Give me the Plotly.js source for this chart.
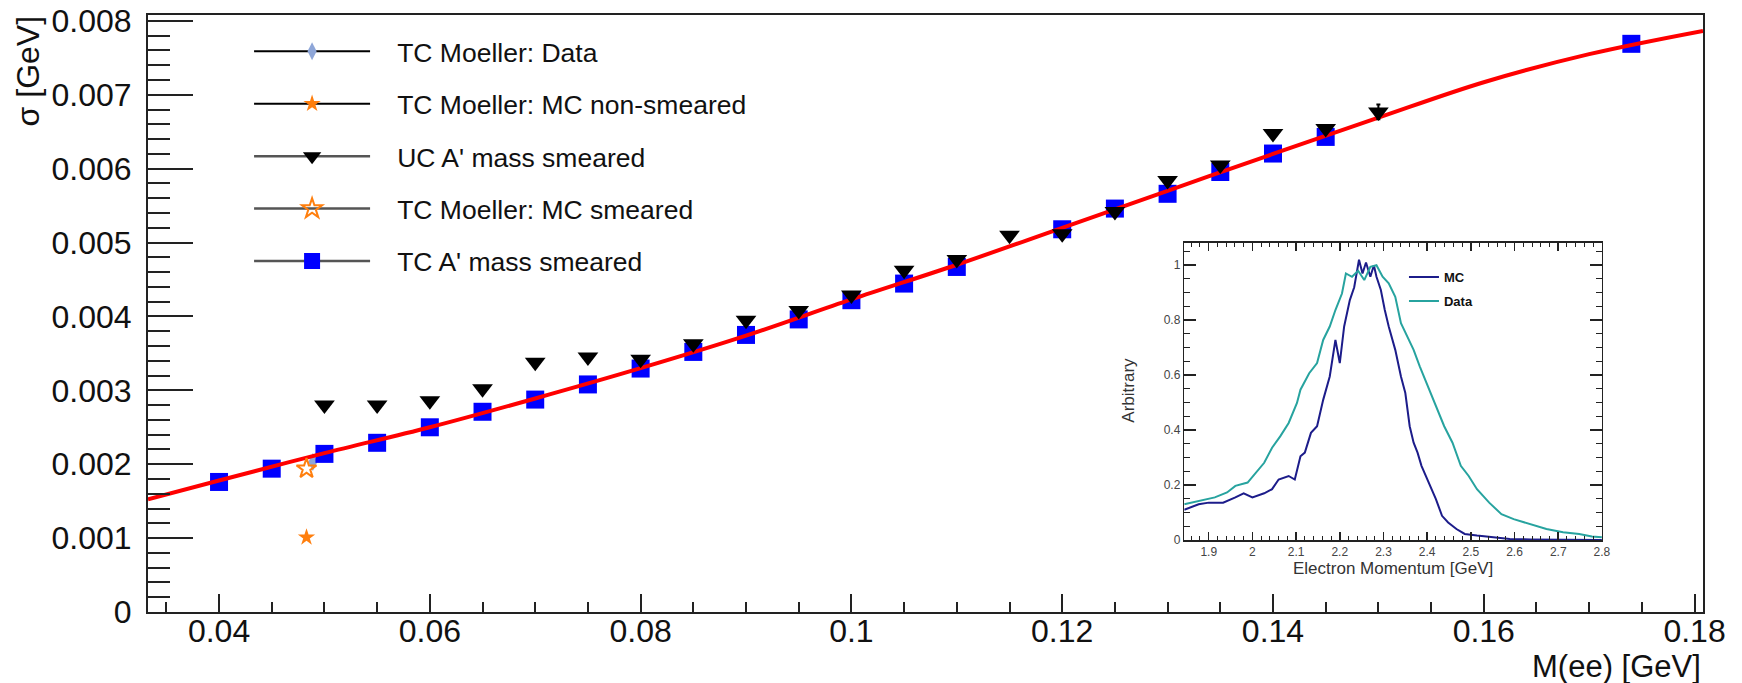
<!DOCTYPE html>
<html>
<head>
<meta charset="utf-8">
<script src="https://cdn.plot.ly/plotly-3.0.1.min.js"></script>
<style>html,body{margin:0;padding:0;background:#fff;}#chart{width:1742px;height:683px;}</style>
</head>
<body>
<div id="chart"></div>
<script>
// ---- main plot data (M(ee) in GeV, sigma in GeV) ----
const massTC = [0.04,0.045,0.05,0.055,0.06,0.065,0.07,0.075,0.08,0.085,0.09,0.095,0.10,0.105,0.11,0.12,0.125,0.13,0.135,0.14,0.145,0.174];
const sigmaTC = [0.00176,0.00194,0.00214,0.00229,0.00250,0.00271,0.002875,0.00308,0.003295,0.00352,0.00375,0.00396,0.00422,0.004445,0.00467,0.00518,0.00546,0.00566,0.005955,0.006205,0.00643,0.00769];

const massUC = [0.05,0.055,0.06,0.065,0.07,0.075,0.08,0.085,0.09,0.095,0.10,0.105,0.11,0.115,0.12,0.125,0.13,0.135,0.14,0.145,0.15];
const sigmaUC = [0.00280,0.00280,0.00286,0.00302,0.00338,0.00345,0.00342,0.00363,0.00395,0.00408,0.00429,0.004625,0.00477,0.00510,0.00512,0.00542,0.00584,0.00605,0.006476,0.006543,0.006768];
const errUC = [0,0,0,0,0,0,0,0,0,0,0,0,0,0,0,0,0,0,0,0,0.0001];

const moellerDataMass = [0.0489];
const moellerDataSigma = [0.00203];
const moellerMCMass = [0.0483];
const moellerMCNonSmeared = [0.00101];
const moellerMCSmeared = [0.00194];

const fitMass = [0.03326,0.04,0.05,0.06,0.07,0.08,0.09,0.10,0.11,0.12,0.13,0.14,0.15,0.16,0.17,0.1808];
const fitSigma = [0.001525,0.00178,0.00215,0.00250,0.00289,0.00330,0.00374,0.00423,0.00470,0.00520,0.00570,0.00620,0.00669,0.00717,0.00755,0.007865];

// ---- inset data (electron momentum in GeV, arbitrary units) ----
const mcP = [1.844,1.877,1.9,1.933,1.961,1.98,2.0,2.027,2.045,2.06,2.083,2.097,2.11,2.12,2.134,2.148,2.162,2.177,2.19,2.2,2.21,2.223,2.233,2.244,2.252,2.26,2.27,2.278,2.284,2.294,2.303,2.312,2.327,2.34,2.35,2.36,2.369,2.378,2.387,2.397,2.41,2.42,2.434,2.448,2.467,2.486,2.514,2.552,2.589,2.636,2.683,2.8];
const mcY = [0.11,0.13,0.136,0.136,0.155,0.17,0.155,0.17,0.185,0.22,0.233,0.22,0.305,0.318,0.39,0.414,0.51,0.595,0.728,0.644,0.777,0.873,0.92,1.02,0.97,1.01,0.958,1.0,0.958,0.91,0.837,0.777,0.692,0.595,0.535,0.414,0.354,0.318,0.27,0.233,0.185,0.149,0.088,0.064,0.04,0.022,0.016,0.01,0.004,0.002,0.001,0];
const dataP = [1.844,1.877,1.914,1.942,1.961,1.989,2.008,2.027,2.045,2.064,2.083,2.102,2.11,2.13,2.148,2.162,2.177,2.19,2.205,2.214,2.228,2.242,2.256,2.27,2.284,2.298,2.312,2.327,2.34,2.355,2.369,2.383,2.402,2.42,2.439,2.458,2.477,2.495,2.514,2.542,2.57,2.598,2.636,2.673,2.711,2.748,2.777,2.8];
const dataY = [0.13,0.142,0.155,0.173,0.197,0.209,0.245,0.281,0.336,0.378,0.426,0.499,0.547,0.607,0.644,0.728,0.777,0.837,0.897,0.97,0.958,0.98,0.946,0.994,1.0,0.958,0.934,0.885,0.789,0.74,0.692,0.632,0.559,0.487,0.414,0.354,0.27,0.233,0.185,0.136,0.094,0.076,0.058,0.04,0.028,0.022,0.013,0.01];

// separate points with gaps so the legend shows a line but the plot shows only markers
function gapped(arr){ const out=[]; arr.forEach((v,i)=>{ if(i) out.push(null); out.push(v); }); return out; }
const PAD = '\u00a0\u00a0\u00a0';

const FONT = 'Liberation Sans, Arial, sans-serif';
const ORANGE = '#ff7f0e';

const traces = [
  {name:PAD+'TC Moeller: Data', x:gapped(moellerDataMass), y:gapped(moellerDataSigma), mode:'lines+markers',
   marker:{symbol:'diamond-tall', size:13, color:'#8ea6d8'}, line:{color:'#000', width:2},
   legendrank:1, legendgroup:'g1', xaxis:'x', yaxis:'y'},
  {name:PAD+"TC A' mass smeared", x:gapped(massTC), y:gapped(sigmaTC), mode:'lines+markers',
   marker:{symbol:'square', size:18, color:'#0000ff'}, line:{color:'#555', width:2.5},
   legendrank:5, legendgroup:'g5'},
  {name:'fit', x:fitMass, y:fitSigma, mode:'lines', line:{color:'#ff0000', width:4, shape:'spline', smoothing:1},
   showlegend:false, hoverinfo:'skip'},
  {name:PAD+"UC A' mass smeared", x:gapped(massUC), y:gapped(sigmaUC), mode:'lines+markers',
   marker:{symbol:'triangle-down', size:18, color:'#000'}, line:{color:'#555', width:2.5},
   error_y:{type:'data', array:gapped(errUC), visible:true, color:'#000', thickness:2, width:2},
   legendrank:3, legendgroup:'g3'},
  {name:PAD+'TC Moeller: MC smeared', x:gapped(moellerMCMass), y:gapped(moellerMCSmeared), mode:'lines+markers',
   marker:{symbol:'star-open', size:15, color:ORANGE, line:{width:2, color:ORANGE}}, line:{color:'#555', width:2.5},
   legendrank:4, legendgroup:'g4'},
  {name:PAD+'TC Moeller: MC non-smeared', x:gapped(moellerMCMass), y:gapped(moellerMCNonSmeared), mode:'lines+markers',
   marker:{symbol:'star', size:13, color:ORANGE}, line:{color:'#000', width:2},
   legendrank:2, legendgroup:'g2'},
  {name:'MC', x:mcP, y:mcY, mode:'lines', line:{color:'#1c1c8a', width:2},
   xaxis:'x3', yaxis:'y3', legend:'legend2', legendgroup:'i1'},
  {name:'Data', x:dataP, y:dataY, mode:'lines', line:{color:'#27a39f', width:2},
   xaxis:'x3', yaxis:'y3', legend:'legend2', legendgroup:'i2'}
];

const axisCommon = {showgrid:false, zeroline:false, showline:true, linecolor:'#222', linewidth:2, mirror:true,
  ticks:'inside', tickcolor:'#222', tickwidth:2};

const layout = {
  width:1742, height:683,
  margin:{l:148, r:39, t:15, b:71, pad:0},
  paper_bgcolor:'#fff', plot_bgcolor:'#fff',
  font:{family:FONT, color:'#111'},
  showlegend:true,
  xaxis:Object.assign({}, axisCommon, {
    range:[0.03326, 0.1808], tick0:0, dtick:0.02, ticklen:18, ticklabelstandoff:-10,
    tickfont:{size:32, family:FONT, color:'#111'},
    minor:{dtick:0.005, ticklen:10, tickwidth:2, tickcolor:'#222', ticks:'inside'}
  }),
  yaxis:Object.assign({}, axisCommon, {
    range:[0, 0.00808], tick0:0, dtick:0.001, ticklen:45, ticklabelstandoff:8,
    tickfont:{size:32, family:FONT, color:'#111'},
    minor:{dtick:0.0002, ticklen:22, tickwidth:2, tickcolor:'#222', ticks:'inside'}
  }),
  // blank white panel behind the inset (its margin area)
  xaxis2:{domain:[0.611, 0.9498], anchor:'y2', range:[0,1], visible:false, fixedrange:true},
  yaxis2:{domain:[0.0369, 0.6667], anchor:'x2', range:[0,1], visible:false, fixedrange:true},
  // inset
  xaxis3:{domain:[0.6664, 0.9350], anchor:'y3', range:[1.844, 2.8], tick0:0, dtick:0.1,
    showgrid:false, zeroline:false, showline:true, linecolor:'#222', linewidth:1.5, mirror:'allticks',
    ticks:'inside', ticklen:8, tickwidth:1.5, tickcolor:'#222',
    tickfont:{size:12, family:FONT, color:'#444'},
    minor:{dtick:0.02, ticklen:4, tickwidth:1, tickcolor:'#222', ticks:'inside'}},
  yaxis3:{domain:[0.1206, 0.6186], anchor:'x3', range:[0, 1.082], tick0:0, dtick:0.2,
    showgrid:false, zeroline:false, showline:true, linecolor:'#222', linewidth:1.5, mirror:'allticks',
    ticks:'inside', ticklen:12, tickwidth:1.5, tickcolor:'#222',
    tickfont:{size:12, family:FONT, color:'#444'},
    minor:{dtick:0.05, ticklen:6, tickwidth:1, tickcolor:'#222', ticks:'inside'}},
  legend:{x:0.065, xanchor:'left', y:0.979, yanchor:'top', bgcolor:'rgba(0,0,0,0)', borderwidth:0,
    font:{size:26.5, family:FONT, color:'#111'}, itemwidth:116, tracegroupgap:15, traceorder:'grouped'},
  legend2:{x:0.8077, xanchor:'left', y:0.586, yanchor:'top', bgcolor:'rgba(0,0,0,0)', borderwidth:0,
    font:{size:13, family:FONT, color:'#111', weight:'bold'}, itemwidth:30, tracegroupgap:4, traceorder:'grouped'},
  annotations:[
    {text:'M(ee) [GeV]', xref:'paper', yref:'paper', x:1, y:-0.0905, xanchor:'right', yanchor:'middle',
     showarrow:false, font:{size:31, family:FONT, color:'#111'}},
    {text:'σ [GeV]', xref:'paper', yref:'paper', x:-0.077, y:0.906, xanchor:'center', yanchor:'middle',
     textangle:-90, showarrow:false, font:{size:32, family:FONT, color:'#111'}},
    {text:'Electron Momentum [GeV]', xref:'paper', yref:'paper', x:0.8006, y:0.0737, xanchor:'center', yanchor:'middle',
     showarrow:false, font:{size:17, family:FONT, color:'#333'}},
    {text:'Arbitrary', xref:'paper', yref:'paper', x:0.6307, y:0.372, xanchor:'center', yanchor:'middle',
     textangle:-90, showarrow:false, font:{size:17, family:FONT, color:'#333'}}
  ]
};

Plotly.newPlot('chart', traces, layout, {displayModeBar:false, staticPlot:true});
</script>
</body>
</html>
